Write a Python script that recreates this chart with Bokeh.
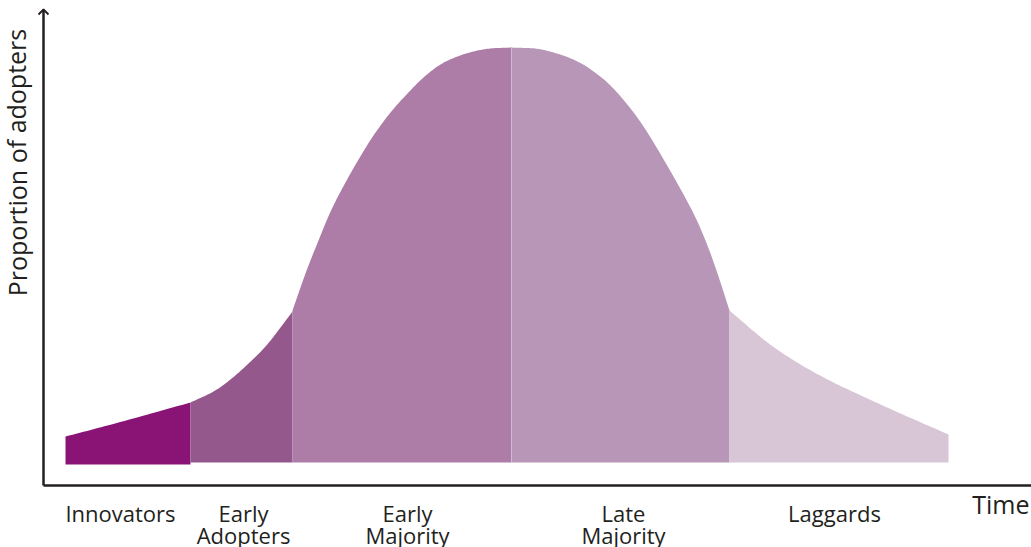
import numpy as np
from bokeh.plotting import figure
from bokeh.models import Range1d, ColumnDataSource
from bokeh.core.properties import value
from bokeh.embed import file_html
from bokeh.resources import INLINE

# ---- data (time vs. proportion of adopters, arbitrary units) ----
innov_t = [22, 64, 97, 147]
innov_p = [49, 60, 69, 83]

early_ad_t = [147, 170, 187, 204, 222, 237, 249]
early_ad_p = [83, 94, 106, 121, 139, 158, 174]

early_maj_t = [249, 262, 275, 289, 307, 328, 347, 364, 380, 397, 414, 430, 447, 468]
early_maj_p = [175, 212, 245, 278, 312, 347, 373, 392, 408, 421, 429, 434, 437, 438]

late_maj_t = [468, 498, 532, 558, 578, 598, 619, 647, 662, 674, 686]
late_maj_p = [438, 436, 425, 408, 388, 362, 328, 278, 245, 212, 175]

lag_t = [686, 724, 757, 790, 824, 857, 905]
lag_p = [175, 143, 121, 103, 87, 72, 51]

segments = ["Innovators", "Early\nAdopters", "Early\nMajority", "Late\nMajority", "Laggards"]
seg_colors = ["#8a1476", "#95588d", "#ad7ca7", "#b896b8", "#d8c6d7"]
seg_base = [21, 23, 23, 23, 23]
label_t = [77, 200, 364, 580, 791]

INK = "#231f20"
FONT = "Open Sans"


def smooth(t, v, n=12):
    """Catmull-Rom drawing path through the read points (for rendering only)."""
    t = np.asarray(t, float)
    v = np.asarray(v, float)
    P = np.column_stack([t, v])
    P = np.vstack([2 * P[0] - P[1], P, 2 * P[-1] - P[-2]])
    xs, ys = [], []
    for i in range(1, len(P) - 2):
        p0, p1, p2, p3 = P[i - 1], P[i], P[i + 1], P[i + 2]
        for s in np.linspace(0, 1, n, endpoint=False):
            q = 0.5 * ((2 * p1) + (-p0 + p2) * s + (2 * p0 - 5 * p1 + 4 * p2 - p3) * s * s
                       + (-p0 + 3 * p1 - 3 * p2 + p3) * s ** 3)
            xs.append(q[0])
            ys.append(q[1])
    xs.append(P[-2][0])
    ys.append(P[-2][1])
    return xs, ys


p = figure(width=1031, height=547, output_backend="svg", toolbar_location=None,
           x_range=Range1d(-43, 988), y_range=Range1d(-62, 485),
           min_border=0, min_border_left=0, min_border_right=0,
           min_border_top=0, min_border_bottom=0)
p.xaxis.visible = False
p.yaxis.visible = False
p.grid.visible = False
p.outline_line_color = None
p.background_fill_color = "white"
p.border_fill_color = "white"

series = [(innov_t, innov_p), (early_ad_t, early_ad_p), (early_maj_t, early_maj_p),
          (late_maj_t, late_maj_p), (lag_t, lag_p)]
for (t, pr), col, base in zip(series, seg_colors, seg_base):
    xs, ys = smooth(t, pr)
    src = ColumnDataSource(dict(x=xs, y1=[base] * len(xs), y2=ys))
    p.varea(x="x", y1="y1", y2="y2", source=src, fill_color=col)

# thin light divider between early and late majority
p.line([late_maj_t[0], late_maj_t[0]], [seg_base[3], late_maj_p[0]],
       line_color="#d3b9d2", line_width=1)

# axes
p.line([0, 0], [0, 476], line_color=INK, line_width=2.5)
p.line([-5, 0, 5], [471, 476, 471], line_color=INK, line_width=1.8)
p.line([0, 990], [0, 0], line_color=INK, line_width=2.5)

# category labels
for lab, t in zip(segments, label_t):
    lines = lab.split("\n")
    for i, ln in enumerate(lines):
        p.text(x=[t], y=[-27 - 22 * i], text=[ln], text_align="center",
               text_baseline="alphabetic", text_font=value(FONT),
               text_font_size="22px", text_color=INK)

p.text(x=[986], y=[-18], text=["Time"], text_align="right",
       text_baseline="alphabetic", text_font=value(FONT),
       text_font_size="25px", text_color=INK)

p.text(x=[-27], y=[323], text=["Proportion of adopters"], angle=1.5708,
       text_align="center", text_baseline="alphabetic", text_font=value(FONT),
       text_font_size="25px", text_color=INK)

open("out.html", "w").write(file_html(p, INLINE))
